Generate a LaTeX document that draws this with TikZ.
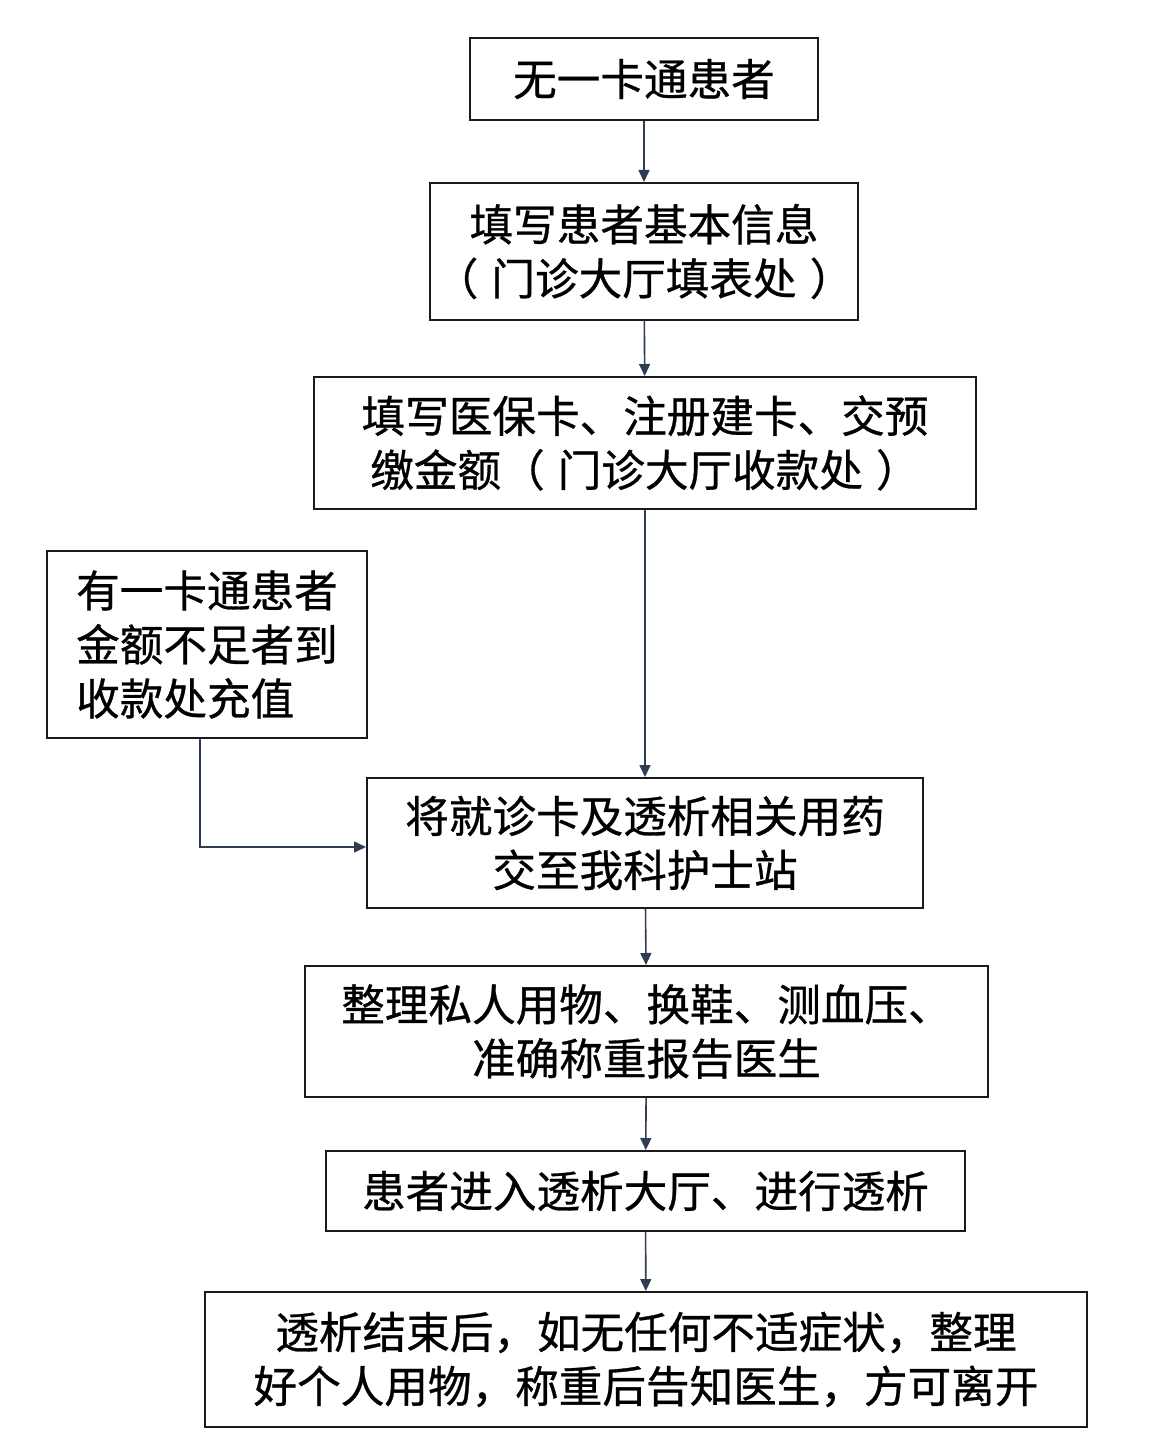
\documentclass[tikz,border=0pt]{standalone}
\usepackage{fontspec}
\setmainfont{Noto Sans CJK SC}
\newfontfamily\cjk[FakeBold=0.7]{Noto Sans CJK SC}
\usetikzlibrary{positioning,calc,arrows.meta}
\definecolor{ink}{HTML}{1A1A1A}
\definecolor{flow}{HTML}{2E3D52}
\newcommand\lpar{（\hspace{0.3em}}
\newcommand\rpar{\hspace{0.3em}）}
\tikzset{
  every node/.style={font=\cjk\fontsize{21.8pt}{27pt}\selectfont},
  % --- nodes
  stepbox/.style={draw=ink, line width=1pt, fill=white, align=center,
                  inner sep=0pt, text=black},
  % --- edges
  e/.style={-{Triangle[length=6pt,width=5.5pt]}, line width=0.8pt, draw=flow},
}
\begin{document}
\begin{tikzpicture}[x=0.5pt,y=-0.5pt]
  \useasboundingbox (0,0) rectangle (1152,1454);

  \node[stepbox, minimum width=174pt, minimum height=41pt] (nocard) at (644,79)
    {无一卡通患者};
  \node[stepbox, minimum width=214pt, minimum height=68.5pt] (info) at (644,251.5)
    {填写患者基本信息\\\lpar 门诊大厅填表处\rpar};
  \node[stepbox, minimum width=331pt, minimum height=66pt] (pay) at (645,443)
    {填写医保卡、注册建卡、交预\\缴金额\lpar 门诊大厅收款处\rpar};
  \node[stepbox, align=left, minimum width=160pt, minimum height=93.5pt] (hascard) at (207,644.5)
    {有一卡通患者\\金额不足者到\\收款处充值};
  \node[stepbox, minimum width=278pt, minimum height=65pt] (nurse) at (645,843)
    {将就诊卡及透析相关用药\\交至我科护士站};
  \node[stepbox, minimum width=341.5pt, minimum height=65.5pt] (prep) at (646.5,1031.5)
    {整理私人用物、换鞋、测血压、\\准确称重报告医生};
  \node[stepbox, minimum width=319.5pt, minimum height=40pt] (hall) at (645.5,1191)
    {患者进入透析大厅、进行透析};
  \node[stepbox, minimum width=441pt, minimum height=67.5pt] (leave) at (646,1359.5)
    {透析结束后，如无任何不适症状，整理\\好个人用物，称重后告知医生，方可离开};

  \draw[e] (nocard) -- (info);
  \draw[e] (info) -- (pay);
  \draw[e] (pay) -- (nurse);
  \draw[e] (nurse) -- (prep);
  \draw[e] (prep) -- (hall);
  \draw[e] (hall) -- (leave);
  \draw[e] ([xshift=-3.5pt]hascard.south) |- ([yshift=-2pt]nurse.west);
\end{tikzpicture}
\end{document}
